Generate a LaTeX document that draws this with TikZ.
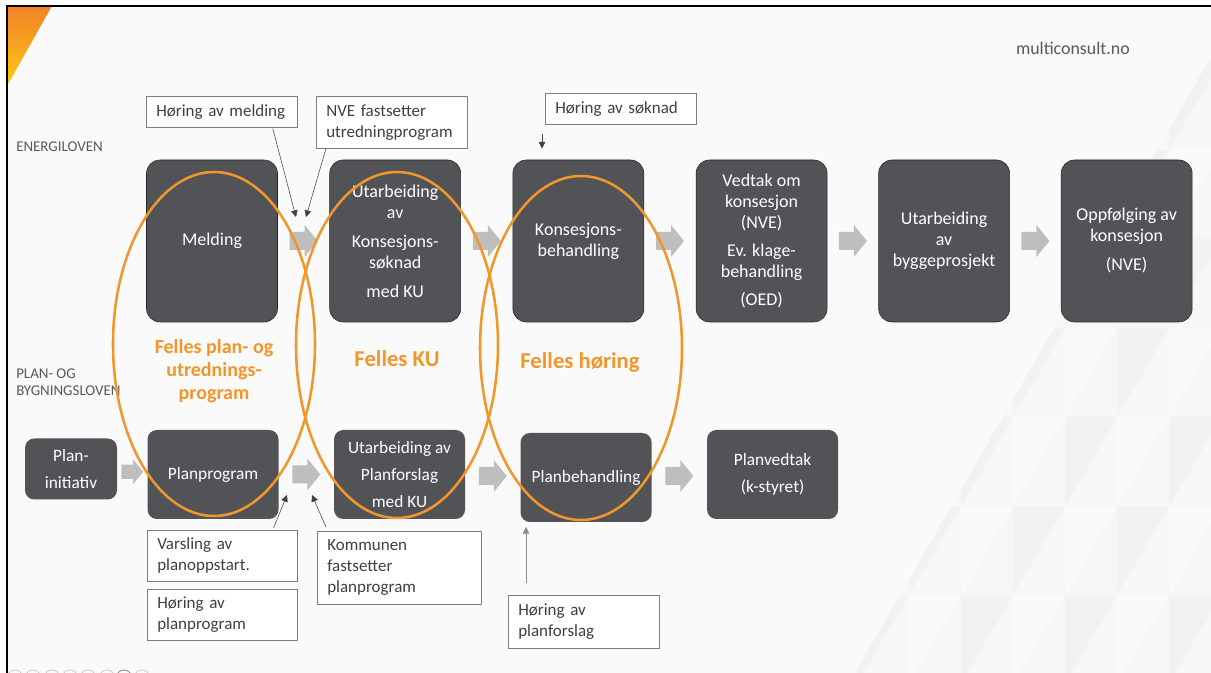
\documentclass[tikz,border=0pt]{standalone}
\usepackage{fontspec}
\setmainfont{Carlito}
\usetikzlibrary{positioning,calc,arrows.meta}

\definecolor{bg}{RGB}{250,250,250}
\definecolor{boxfill}{RGB}{82,83,87}
\definecolor{boxedge}{RGB}{38,38,38}
\definecolor{flowgray}{RGB}{190,190,190}
\definecolor{fellesorange}{RGB}{242,150,44}
\definecolor{notegray}{RGB}{125,125,125}
\definecolor{notetext}{RGB}{64,64,64}
\definecolor{labelgray}{RGB}{89,89,89}

\tikzset{
  stage/.style={draw=boxedge, fill=boxfill, rounded corners=10pt, text=white,
    align=center, minimum width=98.25pt, minimum height=121.5pt, inner sep=2pt,
    font=\fontsize{13.5}{15.75}\selectfont},
  plan/.style={stage, draw=none, rounded corners=7pt, minimum height=66.75pt,
    font=\fontsize{13}{20}\selectfont},
  note/.style={draw=notegray, fill=white, text=notetext, align=left,
    anchor=north west, inner xsep=7.5pt, inner ysep=2pt, text width=#1,
    font=\fontsize{12.75}{15.75}\selectfont},
  pointer/.style={draw=notetext, line width=0.4pt,
    -{Triangle[length=5pt,width=5pt]}},
  felles/.style={draw=fellesorange, line width=1.9pt},
  fellestext/.style={text=fellesorange, align=center,
    font=\fontsize{17}{17.25}\selectfont\bfseries},
  law/.style={text=labelgray, inner sep=0pt, font=\fontsize{11.2}{12.75}\selectfont},
}

% grey block arrow half way between two boxes
\newcommand\flow[3][1]{%
  \fill[flowgray, shift={($(#2.east)!.5!(#3.west)$)}, scale=#1]
    (-14,-9) -- (1,-9) -- (1,-16) -- (14,0) -- (1,16) -- (1,9) -- (-14,9) -- cycle;}

\begin{document}
\begin{tikzpicture}[x=0.75pt, y=-0.75pt]
  \useasboundingbox (0,0) rectangle (1211,673);
  \fill[white] (0,0) rectangle (1211,673);
  \fill[bg] (7,6) rectangle (1211,673);

  % faint triangle tiling, lower right
  \begin{scope}
    \clip (855,673) -- (1211,57) -- (1211,673) -- cycle;
    \fill[black!3] (855,673) -- (1211,57) -- (1211,673) -- cycle;
    \foreach \i in {0,...,6}
      \foreach \j in {0,...,7} {
        \pgfmathtruncatemacro\odd{mod(\i+\j,2)}
        \ifnum\odd=0 \def\tone{black!5}\else\def\tone{black!2}\fi
        \fill[\tone] ({857+52*\i},{61+89*\j}) -- ++(52,0) -- ++(-52,89) -- cycle;
      }
  \end{scope}

  % corner mark and frame
  \shade[top color={rgb,255:red,240;green,130;blue,40}, bottom color={rgb,255:red,255;green,200;blue,20}]
    (7,6) -- (52,6) -- (7,86) -- cycle;
  \draw[line width=1.5pt] (7,673) -- (7,6) -- (1211,6);

  % slide dots
  \foreach \x in {15,33,52,70,88,107,142}
    \draw[black!20, line width=0.6pt] (\x,678) circle [radius=8];
  \draw[black!45, line width=0.6pt] (124,678) circle [radius=8];

  % labels
  \node[law, anchor=west] (energi) at (16,147) {ENERGILOVEN};
  \node[law, anchor=north west, align=left] (pbl) at (16,369) {PLAN- OG\\BYGNINGSLOVEN};
  \node[anchor=east, inner sep=0pt, text=labelgray, font=\fontsize{13.4}{15}\selectfont] (web) at (1130,48) {multiconsult.no};

  % energiloven
  \node[stage] (melding) at (212,241) {Melding};
  \node[stage] (soknad) [right=38.75pt of melding] {Utarbeiding\\av\\[6pt]Konsesjons-\\søknad\\[6pt]med KU};
  \node[stage] (konsbeh) [right=38.75pt of soknad] {Konsesjons-\\behandling};
  \node[stage] (vedtak) [right=38.75pt of konsbeh] {Vedtak om\\konsesjon\\(NVE)\\[5pt]Ev. klage-\\behandling\\[5pt](OED)};
  \node[stage] (bygg) [right=38.25pt of vedtak] {Utarbeiding\\av\\byggeprosjekt};
  \node[stage] (oppfolg) [right=38.25pt of bygg] {Oppfølging av\\konsesjon\\[6pt](NVE)};

  \flow{melding}{soknad}
  \flow{soknad}{konsbeh}
  \flow{konsbeh}{vedtak}
  \flow{vedtak}{bygg}
  \flow{bygg}{oppfolg}

  % plan- og bygningsloven
  \node[plan, minimum width=69pt, minimum height=45.75pt] (initiativ) at (71,469) {Plan-\\initiativ};
  \node[plan] (planprog) at (213,474.5) {Planprogram};
  \node[plan] (planforslag) [right=41.25pt of planprog] {Utarbeiding av\\Planforslag\\med KU};
  \node[plan] (planbeh) [right=41.25pt of planforslag, yshift=-2.25pt] {Planbehandling};
  \node[plan] (planvedtak) [right=41.25pt of planbeh, yshift=2.25pt] {Planvedtak\\(k-styret)};

  \flow[0.78]{initiativ}{planprog}
  \flow{planprog}{planforslag}
  \flow{planforslag}{planbeh}
  \flow{planbeh}{planvedtak}

  % hearings and decisions
  \node[note=98.25pt, minimum height=23.25pt] (hmeld) at (146,96) {Høring av melding};
  \node[note=98.25pt, minimum height=39pt] (nvefast) at (316,96) {NVE fastsetter\\utredningprogram};
  \node[note=98.25pt, minimum height=23.25pt] (hsoknad) at (545,93) {Høring av søknad};
  \node[note=97.5pt, minimum height=38.25pt] (varsling) at (147,530) {Varsling av\\planoppstart.};
  \node[note=97.5pt, minimum height=38.25pt] (hplanprog) at (147,589) {Høring av\\planprogram};
  \node[note=108pt, minimum height=54.75pt] (kommunen) at (317,531) {Kommunen\\fastsetter\\planprogram};
  \node[note=98.25pt, minimum height=39.75pt] (hplanforslag) at (508,595) {Høring av\\planforslag};

  \coordinate (m1) at (296,217);
  \coordinate (m2) at (306,217);
  \coordinate (p1) at (287,495);
  \coordinate (p2) at (312,495);
  \coordinate (p3) at (526,527);
  \draw[pointer] ($(hmeld.south)+(51,1)$) -- (m1);
  \draw[pointer] ($(nvefast.south west)+(10,0)$) -- (m2);
  \draw[pointer] ($(hsoknad.south west)+(-3,9)$) -- ++(0,15);
  \draw[pointer] ($(varsling.north east)+(-24,-2)$) -- (p1);
  \draw[pointer] ($(kommunen.north west)+(9,-4)$) -- (p2);
  \draw[pointer, draw=black!45] ($(hplanforslag.north west)+(18,-12)$) -- (p3);

  % joint processes
  \draw[felles] (214,344) ellipse [x radius=101, y radius=172];
  \draw[felles] (397,345) ellipse [x radius=101, y radius=173];
  \draw[felles] (581,348) ellipse [x radius=101, y radius=172];
  \node[fellestext, font=\fontsize{15}{17.25}\selectfont\bfseries] (fplan) at (214,371) {Felles plan- og\\utrednings-\\program};
  \node[fellestext] (fku) at (397,359) {Felles KU};
  \node[fellestext] (fhoring) at (580,362) {Felles høring};
\end{tikzpicture}
\end{document}
